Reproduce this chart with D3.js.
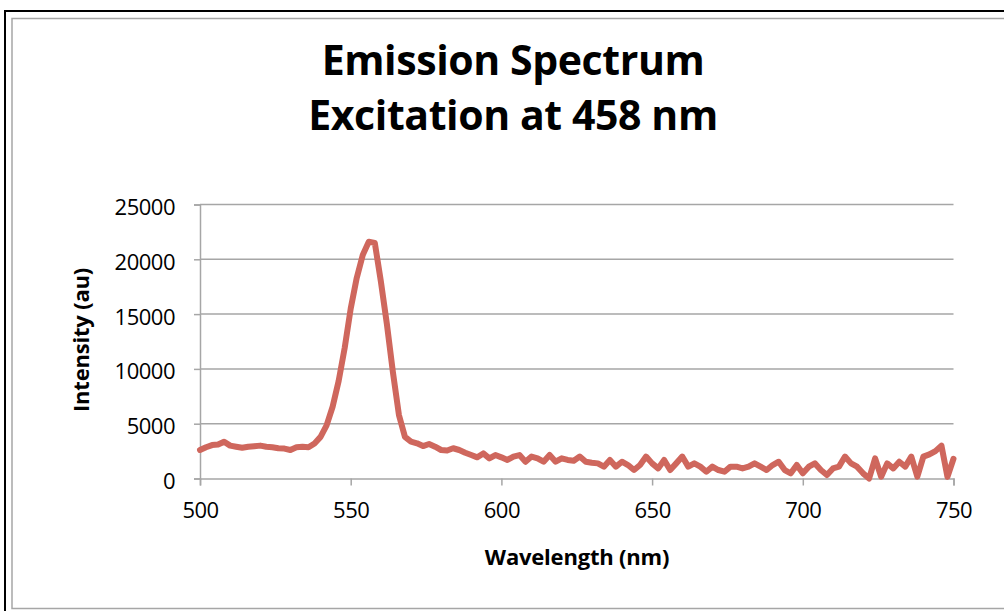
<!DOCTYPE html>
<html>
<head>
<meta charset="utf-8">
<script src="https://cdn.jsdelivr.net/npm/d3@7"></script>
<style>
  body { margin: 0; background: #fff; }
  text { font-family: "Open Sans", "Noto Sans", sans-serif; }
</style>
</head>
<body>
<div id="chart"></div>
<script>
// wavelength grid, 2 nm steps
var wavelengths = [
    500, 502, 504, 506, 508, 510, 512, 514, 516, 518, 520, 522, 524, 526, 528, 530, 532, 534, 536, 538,
    540, 542, 544, 546, 548, 550, 552, 554, 556, 558, 560, 562, 564, 566, 568, 570, 572, 574, 576, 578,
    580, 582, 584, 586, 588, 590, 592, 594, 596, 598, 600, 602, 604, 606, 608, 610, 612, 614, 616, 618,
    620, 622, 624, 626, 628, 630, 632, 634, 636, 638, 640, 642, 644, 646, 648, 650, 652, 654, 656, 658,
    660, 662, 664, 666, 668, 670, 672, 674, 676, 678, 680, 682, 684, 686, 688, 690, 692, 694, 696, 698,
    700, 702, 704, 706, 708, 710, 712, 714, 716, 718, 720, 722, 724, 726, 728, 730, 732, 734, 736, 738,
    740, 742, 744, 746, 748, 750
];

var intensity = [
    2600, 2850, 3050, 3100, 3360, 3000, 2900, 2800, 2900, 2950, 3000, 2900, 2850, 2760, 2730, 2600, 2850, 2900, 2850, 3200,
    3800, 4850, 6550, 8900, 11900, 15500, 18300, 20400, 21600, 21500, 18000, 14100, 9700, 5800, 3800, 3360, 3210, 2960, 3150, 2900,
    2600, 2550, 2760, 2600, 2350, 2140, 1930, 2290, 1840, 2140, 1930, 1690, 2000, 2140, 1530, 2000, 1840, 1530, 2140, 1530,
    1840, 1690, 1620, 2000, 1530, 1440, 1380, 1080, 1690, 1080, 1530, 1230, 775, 1230, 2000, 1380, 920, 1690, 775, 1380,
    2000, 1080, 1380, 1080, 620, 1080, 775, 620, 1080, 1080, 920, 1080, 1380, 1080, 775, 1230, 1530, 775, 470, 1230,
    470, 1080, 1380, 775, 320, 920, 1080, 2000, 1380, 1080, 470, 0, 1840, 160, 1380, 920, 1530, 1080, 2000, 160,
    2000, 2200, 2500, 3000, 150, 1800
];

var xTicks = [500, 550, 600, 650, 700, 750];
var yTicks = [0, 5000, 10000, 15000, 20000, 25000];

var titleLines = ['Emission Spectrum', 'Excitation at 458 nm'];
var xTitle = 'Wavelength (nm)';
var yTitle = 'Intensity (au)';

var sWidth = 1004;
var sHeight = 611;

var marg = { top: 204.5, bottom: 611 - 478.5, left: 200, right: 1004 - 953.5 };
var width = sWidth - marg.left - marg.right;
var height = sHeight - marg.top - marg.bottom;

var svg = d3.select('#chart')
    .append('svg')
    .attr('width', sWidth)
    .attr('height', sHeight);

// frame: outer black + inner grey
svg.append('rect')
    .attr('x', 5).attr('y', 11)
    .attr('width', 1020).attr('height', 620)
    .attr('fill', 'none')
    .attr('stroke', '#000')
    .attr('stroke-width', 2);

svg.append('rect')
    .attr('x', 12).attr('y', 18.5)
    .attr('width', 1010).attr('height', 590)
    .attr('fill', '#fff')
    .attr('stroke', '#a6a6a6')
    .attr('stroke-width', 1.5);

var chartGroup = svg.append('g')
    .attr('transform', `translate(${marg.left}, ${marg.top})`);

var x = d3.scaleLinear().domain([500, 750]).range([0, width]);
var y = d3.scaleLinear().domain([0, 25000]).range([height, 0]);

// gridlines
chartGroup.append('g')
    .selectAll('line')
    .data(yTicks.slice(1))
    .enter()
    .append('line')
    .attr('x1', 0)
    .attr('x2', width)
    .attr('y1', d => y(d))
    .attr('y2', d => y(d))
    .attr('stroke', '#a6a6a6')
    .attr('stroke-width', 1.5);

var bottomAxis = d3.axisBottom(x).tickValues(xTicks).tickSize(7).tickPadding(17).tickFormat(d3.format('d'));
var leftAxis = d3.axisLeft(y).tickValues(yTicks).tickSize(6).tickPadding(19).tickFormat(d3.format('d'));

var xAxis = chartGroup.append('g')
    .attr('transform', `translate(0, ${height})`)
    .call(bottomAxis);

var yAxis = chartGroup.append('g')
    .call(leftAxis);

[xAxis, yAxis].forEach(function(ax) {
    ax.select('.domain').attr('stroke', '#a6a6a6').attr('stroke-width', 1.5);
    ax.selectAll('.tick line').attr('stroke', '#a6a6a6').attr('stroke-width', 1.5);
    ax.selectAll('.tick text')
        .attr('fill', '#000')
        .style('font-size', '22px')
        .style('letter-spacing', '-0.5px')
        .style('font-family', '"Open Sans", sans-serif');
});
yAxis.selectAll('.tick text').attr('dy', '0.45em');

// spectrum line
var points = wavelengths.map((w, i) => ({ w: w, v: intensity[i] }));
var line = d3.line()
    .x(d => x(d.w))
    .y(d => y(d.v));

chartGroup.append('path')
    .datum(points)
    .attr('d', line)
    .attr('fill', 'none')
    .attr('stroke', '#cf675d')
    .attr('stroke-width', 6)
    .attr('stroke-linejoin', 'round')
    .attr('stroke-linecap', 'round');

// titles
svg.selectAll('.title')
    .data(titleLines)
    .enter()
    .append('text')
    .attr('class', 'title')
    .attr('x', 513)
    .attr('y', (d, i) => 75 + i * 55)
    .attr('text-anchor', 'middle')
    .style('font-size', '41px')
    .style('font-weight', 'bold')
    .style('letter-spacing', '-0.4px')
    .text(d => d);

svg.append('text')
    .attr('x', 577)
    .attr('y', 565)
    .attr('text-anchor', 'middle')
    .style('font-size', '22px')
    .style('font-weight', 'bold')
    .style('letter-spacing', '-0.2px')
    .text(xTitle);

svg.append('text')
    .attr('transform', 'translate(89, 340) rotate(-90)')
    .attr('text-anchor', 'middle')
    .style('font-size', '22px')
    .style('font-weight', 'bold')
    .style('letter-spacing', '-0.2px')
    .text(yTitle);
</script>
</body>
</html>
